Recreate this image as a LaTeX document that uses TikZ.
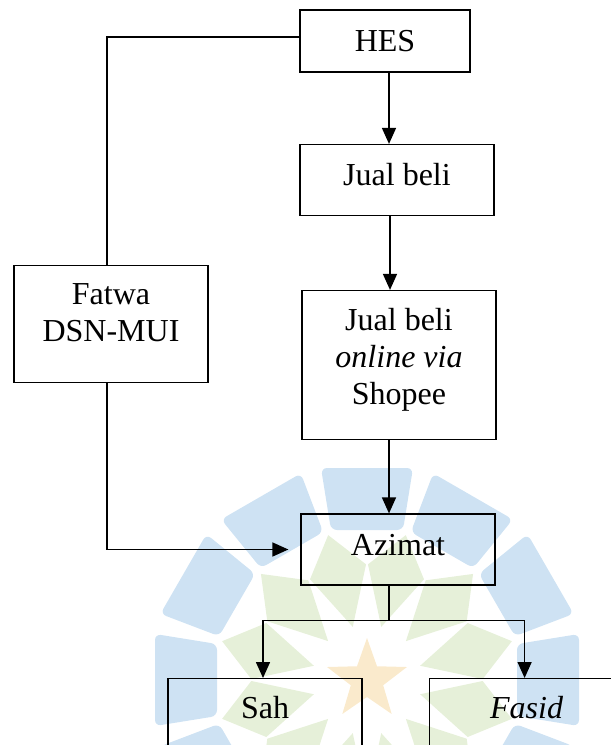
\documentclass[tikz,border=0pt]{standalone}
\usepackage{fontspec}
\setmainfont{Liberation Serif}
\usepackage{tikz}
\usetikzlibrary{arrows.meta,calc}

\definecolor{wm_blue}{RGB}{206,226,243}
\definecolor{wm_green}{RGB}{230,240,217}
\definecolor{wm_star}{RGB}{250,234,204}

\begin{document}
\begin{tikzpicture}[x=1pt,y=-1pt,>={Triangle[length=16pt,width=14pt]}]
		\fontsize{32}{37}\selectfont
		\tikzstyle{box} = [draw, line width=1.2pt, rectangle, minimum width = 194, align = center, inner sep=0];
		\tikzstyle{line} = [line width=1.5pt];

		\useasboundingbox (0,0) rectangle (611,745);
		\clip (0,0) rectangle (611,745);

		% watermark behind the chart
		\begin{scope}[shift={(367,680)}]
			\foreach \a in {0,30,...,330}{%
				\fill[wm_blue, rotate=\a, rounded corners=6] (150,-36) -- (212,-46) -- (212,46) -- (150,36) -- cycle;
				\fill[wm_green, rotate=\a+15] (55,0) -- (112,-29) -- (150,0) -- (112,29) -- cycle;
			}
			\fill[wm_star] (-90:42) \foreach \k in {1,...,9}{ -- ({-90+36*\k}:{mod(\k,2)==1?17:42}) } -- cycle;
		\end{scope}

		\node[box, minimum width = 170, minimum height = 62] (hes) at (385,41) {HES};
		\node[box, minimum height = 71, text depth = 12] (jual) at (397,180) {Jual beli};
		\node[box, minimum height = 149, text depth = 18] (shopee) at (399,365) {Jual beli\\\textit{online via}\\Shopee};
		\node[box, minimum height = 117, text depth = 22] (fatwa) at (111,324) {Fatwa\\DSN-MUI};
		\node[box, minimum height = 71, text depth = 10] (azimat) at (398,549.5) {Azimat};

		\node[box, anchor = north, inner ysep = 18, text depth = 50] (sah) at (265,678) {Sah};
		\node[box, anchor = north west, inner ysep = 18, text depth = 50] (fasid) at (429,678) {\textit{Fasid}};

		\draw[line] ([yshift=4]hes.west) -| ([xshift=-4]fatwa.north);
		\draw[line,->] ([xshift=4]hes.south) -- ([xshift=4]hes.south |- jual.north);
		\draw[line,->] ([xshift=-7]jual.south) -- ([xshift=-7]jual.south |- shopee.north);
		\draw[line,->] ([xshift=-10]shopee.south) -- ([xshift=-10]shopee.south |- azimat.north);
		\draw[line,->] ([xshift=-4]fatwa.south) |- ([xshift=-12]azimat.west);

		\coordinate (split) at ($([xshift=-9]azimat.south)+(0,35)$);
		\draw[line] ([xshift=-9]azimat.south) -- (split);
		\draw[line,->] (split) -| ([xshift=-2]sah.north);
		\draw[line,->] (split) -| ([xshift=-2]fasid.north);
	\end{tikzpicture}
\end{document}
